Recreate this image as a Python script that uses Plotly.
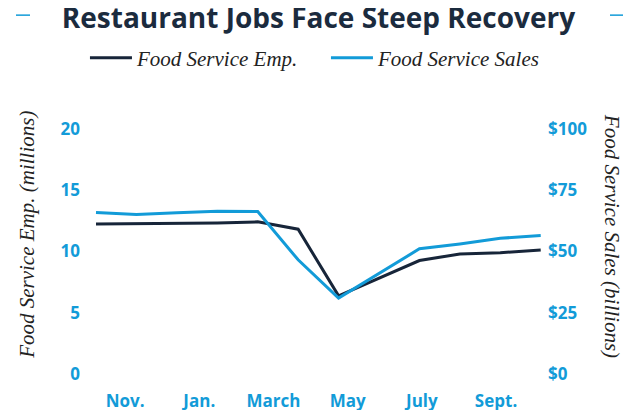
import plotly.graph_objects as go

# ---- data ----
months = ["Oct", "Nov", "Dec", "Jan", "Feb", "Mar", "Apr", "May", "Jun", "Jul", "Aug", "Sep"]
emp_millions = [12.25, 12.27, 12.30, 12.33, 12.42, 11.82, 6.38, 7.80, 9.26, 9.80, 9.90, 10.13]
sales_billions = [65.9, 65.1, 65.8, 66.4, 66.3, 46.6, 31.0, 40.9, 51.1, 53.1, 55.4, 56.5]
tick_labels = ["Nov.", "Jan.", "March", "May", "July", "Sept."]
emp_ticks = [0, 5, 10, 15, 20]
sales_ticks = [0, 25, 50, 75, 100]
sales_tick_labels = ["$0", "$25", "$50", "$75", "$100"]

DARK = "#172539"
BLUE = "#129bd8"
TITLE_C = "#1b2b3e"
TEXT_C = "#222222"

OFF = 8  # page body margin
W, H = 637 - OFF, 410 - OFF
PL, PR, PT, PB = 85, 545, 129, 374.3   # plot box in page pixels
L, R, T, B = PL - OFF, W - (PR - OFF), PT - OFF, H - (PB - OFF)
PW, PH = W - L - R, H - T - B


def px_x(px):
    return (px - OFF - L) / PW


def px_y(py):
    return (H - B - (py - OFF)) / PH


xs = list(range(len(months)))
tickvals = [0.72 + 1.835 * k for k in range(len(tick_labels))]

fig = go.Figure()
fig.add_trace(go.Scatter(x=xs, y=emp_millions, mode="lines", name="Food Service Emp.",
                         line=dict(color=DARK, width=3), yaxis="y"))
fig.add_trace(go.Scatter(x=xs, y=sales_billions, mode="lines", name="Food Service Sales",
                         line=dict(color=BLUE, width=3), yaxis="y2"))

tickfont = dict(family="Open Sans", size=17, color=BLUE, weight=700)
serif = dict(family="Liberation Serif", size=21, color=TEXT_C, style="italic")

fig.update_layout(
    width=W, height=H,
    margin=dict(l=L, r=R, t=T, b=B, autoexpand=False),
    paper_bgcolor="white", plot_bgcolor="white",
    title=dict(text="Restaurant Jobs Face Steep Recovery", x=px_x(318.5), xref="paper", xanchor="center",
               y=1 - (18 - OFF) / H, yref="container", yanchor="middle",
               font=dict(family="Open Sans", size=28, color=TITLE_C, weight=700)),
    xaxis=dict(range=[-0.272, 11.106], tickvals=tickvals, ticktext=tick_labels,
               showgrid=False, zeroline=False, showline=False, ticks="",
               tickfont=tickfont, ticklabelstandoff=15),
    yaxis=dict(range=[0, 20], tickvals=emp_ticks, showgrid=False, zeroline=False,
               showline=False, ticks="", tickfont=tickfont, ticklabelstandoff=4),
    yaxis2=dict(range=[0, 100], tickvals=sales_ticks, ticktext=sales_tick_labels,
                overlaying="y", side="right", showgrid=False, zeroline=False,
                showline=False, ticks="", tickfont=tickfont, ticklabelstandoff=2),
    showlegend=True,
    legend=dict(orientation="h", xref="paper", x=-0.0001, xanchor="left",
                y=px_y(58), yanchor="middle", font=serif, borderwidth=0, itemwidth=42,
                entrywidth=184, entrywidthmode="pixels", bgcolor="rgba(0,0,0,0)"),
    annotations=[
        dict(text="Food Service Emp. (millions)", x=px_x(27), y=px_y(235), xref="paper", yref="paper",
             textangle=-90, showarrow=False, xanchor="center", yanchor="middle", font=serif),
        dict(text="Food Service Sales (billions)", x=px_x(612), y=px_y(236), xref="paper", yref="paper",
             textangle=90, showarrow=False, xanchor="center", yanchor="middle", font=serif),
    ],
    shapes=[
        dict(type="line", xref="paper", yref="paper", x0=px_x(16), x1=px_x(30), y0=px_y(15), y1=px_y(15),
             line=dict(color=BLUE, width=1.5)),
        dict(type="line", xref="paper", yref="paper", x0=px_x(610), x1=px_x(623), y0=px_y(15), y1=px_y(15),
             line=dict(color=BLUE, width=1.5)),
    ],
)

fig.write_html("out.html")
